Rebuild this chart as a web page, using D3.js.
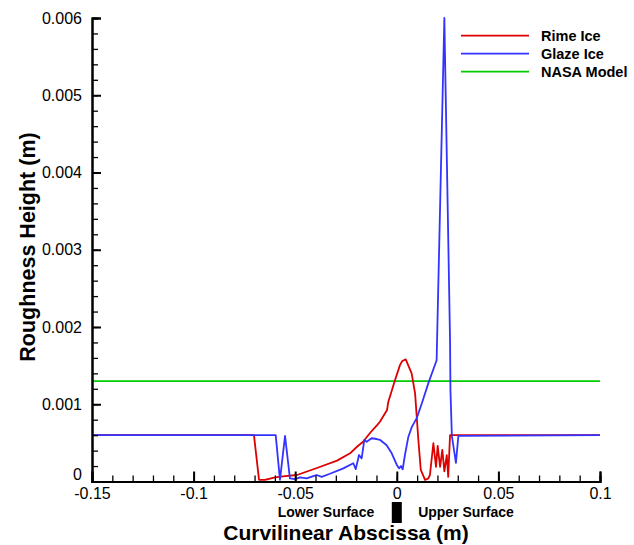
<!DOCTYPE html>
<html>
<head>
<meta charset="utf-8">
<script src="https://cdn.jsdelivr.net/npm/d3@7"></script>
<style>
  html, body { margin: 0; padding: 0; background: #fff; }
  svg { display: block; font-family: "Liberation Sans", Arial, Helvetica, sans-serif; }
</style>
</head>
<body>
<svg id="chart" width="634" height="545"></svg>
<script>
// ---- data ----
const rimeX = [-0.15, -0.0703, -0.0678, -0.0649, -0.0599, -0.055, -0.0491, -0.0393, -0.0294, -0.023, -0.0196, -0.0166, -0.0132, -0.0097, -0.0083, -0.0048, -0.0042, -0.0009, 0.0016, 0.0027, 0.0044, 0.0073, 0.009, 0.0106, 0.0118, 0.0139, 0.0155, 0.0163, 0.018, 0.0193, 0.0201, 0.0213, 0.0224, 0.0234, 0.0246, 0.0253, 0.0262, 0.1];
const rimeY = [0.0006, 0.0006, 0.00002, 0.00002, 0.000054, 0.00007, 0.000084, 0.000175, 0.00027, 0.000365, 0.00045, 0.000515, 0.000628, 0.00073, 0.000774, 0.000925, 0.00103, 0.00131, 0.00151, 0.00156, 0.00158, 0.0014, 0.00114, 0.00054, 0.00015, 0.00002, 0.00004, 0.000084, 0.000495, 0.00019, 0.00046, 0.00019, 0.00041, 0.00013, 0.00034, 0.00006, 0.0006, 0.0006];

const glazeX = [-0.15, -0.0596, -0.0575, -0.055, -0.0526, -0.0501, -0.0476, -0.0443, -0.0411, -0.0394, -0.037, -0.0329, -0.0263, -0.0214, -0.0202, -0.0186, -0.0173, -0.016, -0.0148, -0.0124, -0.0099, -0.0083, -0.005, -0.0025, 0.0000, 0.0011, 0.0021, 0.0029, 0.004, 0.0057, 0.0073, 0.0098, 0.0123, 0.0155, 0.0196, 0.0234, 0.0262, 0.0264, 0.0271, 0.0291, 0.0303, 0.1];
const glazeY = [0.0006, 0.0006, 0.00002, 0.00059, 0.00004, 0.00003, 0.000054, 0.00004, 0.00007, 0.000084, 0.00006, 0.0001, 0.00017, 0.000236, 0.00016, 0.000343, 0.0003, 0.000537, 0.000515, 0.00056, 0.00055, 0.00054, 0.00047, 0.000365, 0.000214, 0.00017, 0.0002, 0.000158, 0.000343, 0.00058, 0.0007, 0.00082, 0.00101, 0.00127, 0.00157, 0.006, 0.00183, 0.00118, 0.00059, 0.00024, 0.00059, 0.0006];

const nasaX = [-0.15, 0.1];
const nasaY = [0.0013, 0.0013];

const xTicks = [-0.15, -0.1, -0.05, 0, 0.05, 0.1];
const xTickLabels = ["-0.15", "-0.1", "-0.05", "0", "0.05", "0.1"];
const yTicks = [0, 0.001, 0.002, 0.003, 0.004, 0.005, 0.006];
const yTickLabels = ["0", "0.001", "0.002", "0.003", "0.004", "0.005", "0.006"];
const seriesNames = ["Rime Ice", "Glaze Ice", "NASA Model"];
const seriesColors = ["#dd0000", "#3333ff", "#00cc00"];

// ---- layout ----
const svg = d3.select("#chart");
const x = d3.scaleLinear().domain([-0.15, 0.1]).range([92, 600]);
const y = d3.scaleLinear().domain([0, 0.006]).range([481.5, 18]);

svg.append("defs").append("clipPath").attr("id", "clip")
  .append("rect").attr("x", 92).attr("y", 17).attr("width", 509).attr("height", 465);

const line = d3.line().x(d => x(d[0])).y(d => y(d[1]));
const plot = svg.append("g").attr("clip-path", "url(#clip)");

const series = [
  { xs: nasaX, ys: nasaY, color: seriesColors[2] },
  { xs: rimeX, ys: rimeY, color: seriesColors[0] },
  { xs: glazeX, ys: glazeY, color: seriesColors[1] }
];
series.forEach(s => {
  plot.append("path")
    .datum(s.xs.map((v, i) => [v, s.ys[i]]))
    .attr("fill", "none")
    .attr("stroke", s.color)
    .attr("stroke-width", 1.8)
    .attr("stroke-linejoin", "round")
    .attr("d", line);
});

// ---- axes ----
const xMinor = d3.range(-0.15, 0.1001, 0.01).map(v => +v.toFixed(4));
const yMinor = d3.range(0, 0.00601, 0.0002).map(v => +v.toFixed(5));

const xAxisMinor = d3.axisBottom(x).tickValues(xMinor).tickSize(-6).tickFormat("");
const xAxis = d3.axisBottom(x).tickValues(xTicks).tickSize(-10).tickPadding(6)
  .tickFormat((d, i) => xTickLabels[i]);
const yAxisMinor = d3.axisLeft(y).tickValues(yMinor).tickSize(-6).tickFormat("");
const yAxis = d3.axisLeft(y).tickValues(yTicks).tickSize(-9).tickPadding(10)
  .tickFormat((d, i) => yTickLabels[i]);

function styleAxis(g) {
  g.select(".domain").attr("stroke", "#000").attr("stroke-width", 2);
  g.selectAll(".tick line").attr("stroke", "#000").attr("stroke-width", 1.3);
  g.selectAll(".tick text").attr("fill", "#000").style("font-size", "16px")
    .style("font-family", "'Liberation Sans', Arial, sans-serif");
}

svg.append("g").attr("transform", "translate(0,481.5)").call(xAxisMinor).call(styleAxis);
svg.append("g").attr("transform", "translate(0,481.5)").call(xAxis).call(styleAxis)
  .selectAll(".tick line").attr("stroke-width", 2);
svg.append("g").attr("transform", "translate(92,0)").call(yAxisMinor).call(styleAxis);
const yg = svg.append("g").attr("transform", "translate(92,0)").call(yAxis).call(styleAxis);
yg.selectAll(".tick line").attr("stroke-width", 2);
// nudge the "0" label up a little so it sits above "-0.15", as in the reference
yg.selectAll(".tick text").filter((d) => d === 0).attr("dy", "-0.1em");

// ---- titles ----
svg.append("text")
  .attr("x", 346).attr("y", 540)
  .attr("text-anchor", "middle")
  .style("font-size", "21px").style("font-weight", "bold")
  .text("Curvilinear Abscissa (m)");

svg.append("text")
  .attr("transform", "translate(35,247) rotate(-90)")
  .attr("text-anchor", "middle")
  .style("font-size", "21.5px").style("font-weight", "bold")
  .text("Roughness Height (m)");

svg.append("text")
  .attr("x", 326).attr("y", 517)
  .attr("text-anchor", "middle")
  .style("font-size", "14px").style("font-weight", "bold")
  .text("Lower Surface");
svg.append("text")
  .attr("x", 466).attr("y", 517)
  .attr("text-anchor", "middle")
  .style("font-size", "14px").style("font-weight", "bold")
  .text("Upper Surface");
svg.append("rect")
  .attr("x", x(0) - 5).attr("y", 502).attr("width", 10).attr("height", 21)
  .attr("fill", "#000");

// ---- legend ----
const legend = svg.append("g");
seriesNames.forEach((name, i) => {
  const ly = 35.7 + i * 18;
  legend.append("line")
    .attr("x1", 461).attr("x2", 529).attr("y1", ly).attr("y2", ly)
    .attr("stroke", seriesColors[i]).attr("stroke-width", 1.8);
  legend.append("text")
    .attr("x", 541).attr("y", ly + 5)
    .style("font-size", "14.5px").style("font-weight", "bold")
    .text(name);
});
</script>
</body>
</html>
